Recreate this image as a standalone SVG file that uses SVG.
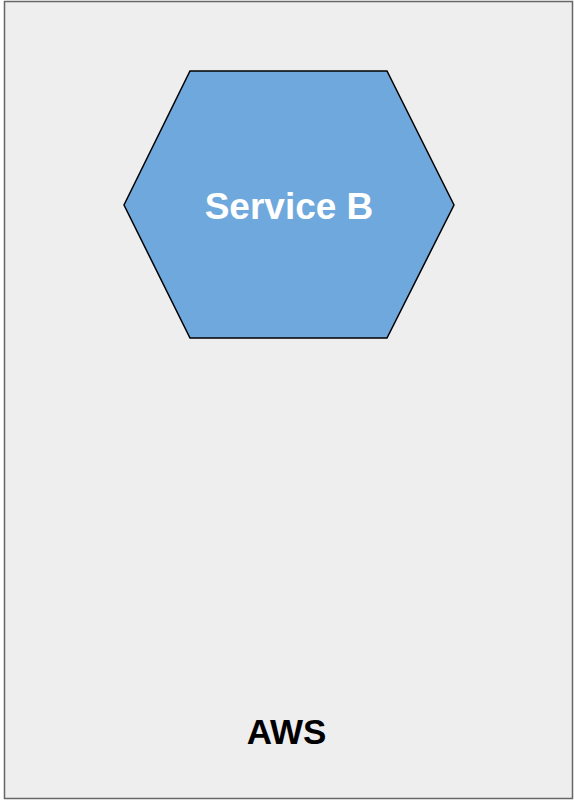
<svg xmlns="http://www.w3.org/2000/svg" width="574" height="800" viewBox="0 0 574 800">
<style>
.container{fill:#eeeeee;stroke:#666666;stroke-width:1.5}
.hex{fill:#6fa8dc;stroke:#000000;stroke-width:1.5}
.label{font-family:"Liberation Sans",Arial,sans-serif;font-weight:bold;text-anchor:middle}
</style>
<g id="aws">
<rect class="container" x="4.5" y="1.5" width="568" height="797"/>
<text class="label" x="286.5" y="744" font-size="35" fill="#000000">AWS</text>
</g>
<g id="service-b">
<polygon class="hex" points="190,71 387,71 454,205 387,338 190,338 124,205"/>
<text class="label" x="289" y="219" font-size="37" fill="#ffffff">Service B</text>
</g>
<g id="connectors"></g>
</svg>
